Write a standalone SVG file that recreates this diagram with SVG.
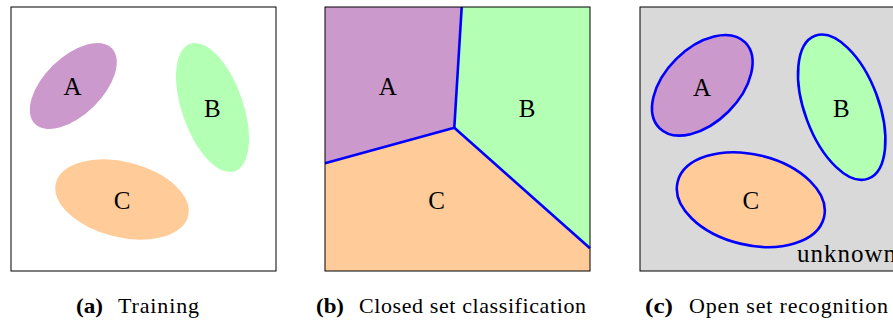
<svg xmlns="http://www.w3.org/2000/svg" width="893" height="324" viewBox="0 0 893 324">
<style>
.frame{fill:none;stroke:#000;stroke-width:1}
.pa{fill:#CC99CC}
.pb{fill:#B3FFB3}
.pc{fill:#FFCC99}
.bl{stroke:#0000FF;stroke-width:2.6;fill:none;stroke-linejoin:round}
.edge{stroke:#0000FF;stroke-width:2.6}
.lbl{font-family:"Liberation Serif","Times New Roman",serif;font-size:25px;fill:#000;text-anchor:middle}
.cap{font-family:"Liberation Serif","Times New Roman",serif;font-size:22px;fill:#000}
.capb{font-family:"Liberation Serif","Times New Roman",serif;font-size:22px;font-weight:bold;fill:#000}
</style>
<rect width="893" height="324" fill="#fff"/>

<!-- Panel (a) Training -->
<g id="panel-a">
  <g id="a-A">
    <ellipse class="pa" cx="73.3" cy="86" rx="53.9" ry="28.9" transform="rotate(-44.4 73.3 86)"/>
    <text class="lbl" x="72.5" y="95">A</text>
  </g>
  <g id="a-B">
    <ellipse class="pb" cx="212.5" cy="107.5" rx="67.5" ry="30.6" transform="rotate(70.7 212.5 107.5)"/>
    <text class="lbl" x="212.4" y="117">B</text>
  </g>
  <g id="a-C">
    <ellipse class="pc" cx="122" cy="199.5" rx="68.2" ry="37.7" transform="rotate(14.1 122 199.5)"/>
    <text class="lbl" x="122" y="209">C</text>
  </g>
  <rect class="frame" x="11" y="7" width="265" height="264"/>
</g>

<!-- Panel (b) Closed set classification -->
<g id="panel-b">
  <g id="b-A">
    <polygon class="pa" points="325,7 461.7,7 454.3,127.7 325,163.3"/>
    <text class="lbl" x="387.8" y="95">A</text>
  </g>
  <g id="b-B">
    <polygon class="pb" points="461.7,7 590,7 590,248.3 454.3,127.7"/>
    <text class="lbl" x="527" y="117">B</text>
  </g>
  <g id="b-C">
    <polygon class="pc" points="325,163.3 454.3,127.7 590,248.3 590,271 325,271"/>
    <text class="lbl" x="436.5" y="209">C</text>
  </g>
  <g id="connectors">
    <polyline class="bl" points="461.7,7 454.3,127.7 325,163.3"/>
    <line class="edge" x1="454.3" y1="127.7" x2="590" y2="248.3"/>
  </g>
  <rect class="frame" x="325" y="7" width="265" height="264"/>
</g>

<!-- Panel (c) Open set recognition -->
<g id="panel-c">
  <rect x="640" y="7" width="265" height="264" fill="#D9D9D9"/>
  <g id="c-A">
    <ellipse class="pa" cx="702.3" cy="85.3" rx="60.6" ry="37.1" transform="rotate(-45 702.3 85.3)"/>
    <ellipse class="bl" cx="702.3" cy="85.3" rx="60.6" ry="37.1" transform="rotate(-45 702.3 85.3)"/>
    <text class="lbl" x="702" y="95.5">A</text>
  </g>
  <g id="c-B">
    <ellipse class="pb" cx="841.7" cy="107.2" rx="76.2" ry="37" transform="rotate(69.6 841.7 107.2)"/>
    <ellipse class="bl" cx="841.7" cy="107.2" rx="76.2" ry="37" transform="rotate(69.6 841.7 107.2)"/>
    <text class="lbl" x="841.3" y="117">B</text>
  </g>
  <g id="c-C">
    <ellipse class="pc" cx="750.8" cy="199.7" rx="75.3" ry="45.2" transform="rotate(13.6 750.8 199.7)"/>
    <ellipse class="bl" cx="750.8" cy="199.7" rx="75.3" ry="45.2" transform="rotate(13.6 750.8 199.7)"/>
    <text class="lbl" x="750.8" y="209">C</text>
  </g>
  <g id="c-unknown">
    <text class="lbl" x="797" y="262" style="text-anchor:start" textLength="99" lengthAdjust="spacing">unknown</text>
  </g>
  <rect class="frame" x="640" y="7" width="265" height="264"/>
</g>

<!-- Captions -->
<g id="captions">
  <text class="capb" x="76" y="313" textLength="27" lengthAdjust="spacingAndGlyphs">(a)</text>
  <text class="cap" x="118" y="313" textLength="81" lengthAdjust="spacing">Training</text>
  <text class="capb" x="316" y="313" textLength="28" lengthAdjust="spacingAndGlyphs">(b)</text>
  <text class="cap" x="359" y="313" textLength="227" lengthAdjust="spacing">Closed set classification</text>
  <text class="capb" x="645" y="313" textLength="28" lengthAdjust="spacingAndGlyphs">(c)</text>
  <text class="cap" x="689" y="313" textLength="199" lengthAdjust="spacing">Open set recognition</text>
</g>
</svg>
